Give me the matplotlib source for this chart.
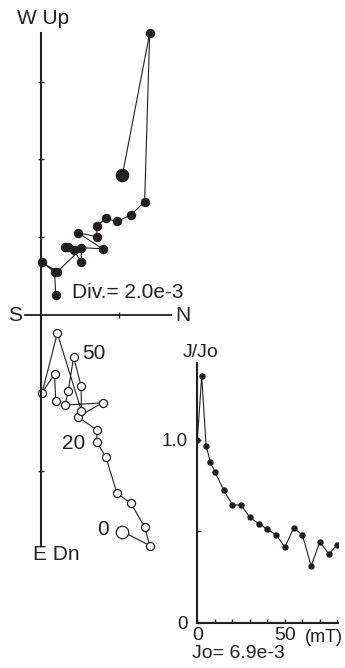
import matplotlib.pyplot as plt

plt.rcParams['font.family'] = 'Liberation Sans'
ink = '#231f20'

# AF demagnetisation steps (mT)
steps = [0, 2.5, 5, 7.5, 10, 15, 20, 25, 30, 35, 40, 45, 50, 55, 60, 65, 70, 75, 80]

# Zijderveld components (units of 1e-3)
north = [2.10, 2.80, 2.67, 2.32, 1.96, 1.68, 1.44, 1.45, 0.96, 1.59,
         0.63, 0.71, 0.85, 1.04, 1.05, 0.43, 0.04, 0.36, 0.39]
west = [3.60, 7.24, 2.92, 2.58, 2.41, 2.49, 2.30, 2.02, 2.12, 1.71,
        1.76, 1.76, 1.68, 1.38, 1.72, 1.12, 1.36, 1.12, 0.53]
up = [-5.54, -5.90, -5.42, -4.82, -4.56, -3.64, -3.24, -2.94, -2.60, -2.24,
      -2.30, -1.93, -1.06, -1.81, -2.45, -0.46, -1.98, -1.50, -2.19]

# normalised intensity
j_jo = [1.0, 1.347, 0.968, 0.876, 0.825, 0.726, 0.644, 0.643, 0.575, 0.542,
        0.511, 0.48, 0.413, 0.517, 0.48, 0.31, 0.443, 0.376, 0.425]

step_labels = {0: '0', 6: '20', 12: '50'}
label_offsets = {0: (-13.7, 1.2), 6: (-16.6, -0.9), 12: (14.2, 2.3)}

fig = plt.figure(figsize=(3.45, 6.68), dpi=100)

# --- orthogonal vector plot ---
ax = fig.add_axes([0, 0, 1, 1])
ax.set_facecolor('none')
ax.set_xlim(-1.04, 7.81)
ax.set_ylim(-9.04, 8.09)
for side in ['top', 'right']:
    ax.spines[side].set_visible(False)
ax.spines['left'].set_position(('data', 0))
ax.spines['bottom'].set_position(('data', 0))
ax.spines['left'].set_bounds(-5.9, 7.25)
ax.spines['bottom'].set_bounds(-0.4, 3.35)
ax.spines['left'].set_linewidth(1.5)
ax.spines['bottom'].set_linewidth(1.3)
ax.spines['left'].set_color(ink)
ax.spines['bottom'].set_color(ink)
ax.set_xticks([2])
ax.set_yticks([-4, -2, 2, 4, 6])
ax.set_xticklabels([])
ax.set_yticklabels([])
ax.tick_params(direction='inout', length=4, width=1, color=ink)

# horizontal projection (closed)
ax.plot(north, west, '-o', color=ink, lw=0.8, ms=5.8, mfc=ink, mec=ink)
ax.plot(north[0], west[0], 'o', ms=8.8, mfc=ink, mec=ink)
# vertical projection (open)
ax.plot(north, up, '-o', color=ink, lw=0.8, ms=5.8, mfc='white', mec=ink, mew=0.9)
ax.plot(north[0], up[0], 'o', ms=9.0, mfc='white', mec=ink, mew=0.9)

for i, lab in step_labels.items():
    ax.annotate(lab, (north[i], up[i]), xytext=label_offsets[i], textcoords='offset points',
                ha='center', va='center', fontsize=15, color=ink)

ax.text(0.06, 7.62, 'W Up', ha='center', va='center', fontsize=15, color=ink)
ax.text(-0.19, -6.14, 'E Dn', ha='left', va='center', fontsize=15, color=ink)
ax.text(-0.65, 0, 'S', ha='center', va='center', fontsize=15, color=ink)
ax.text(3.66, 0, 'N', ha='center', va='center', fontsize=15, color=ink)
ax.text(0.81, 0.58, 'Div.= 2.0e-3', ha='left', va='center', fontsize=15, color=ink)

# --- intensity decay ---
ax2 = fig.add_axes([0.572, 0.0678, 0.408, 0.389])
ax2.set_facecolor('none')
ax2.plot(steps, j_jo, '-o', color=ink, lw=0.8, ms=3.6)
ax2.set_xlim(0, 80.4)
ax2.set_ylim(0, 1.42)
for side in ['top', 'right']:
    ax2.spines[side].set_visible(False)
for side in ['left', 'bottom']:
    ax2.spines[side].set_linewidth(1.5)
    ax2.spines[side].set_color(ink)
ax2.set_xticks([0, 50])
ax2.set_xticklabels(['0', '50'], fontsize=14, color=ink)
ax2.set_xticks(range(10, 81, 10), minor=True)
ax2.set_yticks([0, 0.5, 1.0])
ax2.set_yticklabels(['0', '', '1.0'], fontsize=13.5, color=ink)
ax2.tick_params(axis='both', which='both', direction='in', length=3, width=1, color=ink)
ax2.tick_params(axis='y', pad=7)
ax2.tick_params(axis='x', pad=3)
ax2.text(0.02, 1.04, 'J/Jo', transform=ax2.transAxes, ha='center', va='center', fontsize=14, color=ink)
ax2.text(0.762, -0.056, '(mT)', transform=ax2.transAxes, ha='left', va='center', fontsize=13, color=ink)
ax2.text(-0.035, -0.12, 'Jo= 6.9e-3', transform=ax2.transAxes, ha='left', va='center', fontsize=14, color=ink)

fig.savefig('out.png', dpi=100)
